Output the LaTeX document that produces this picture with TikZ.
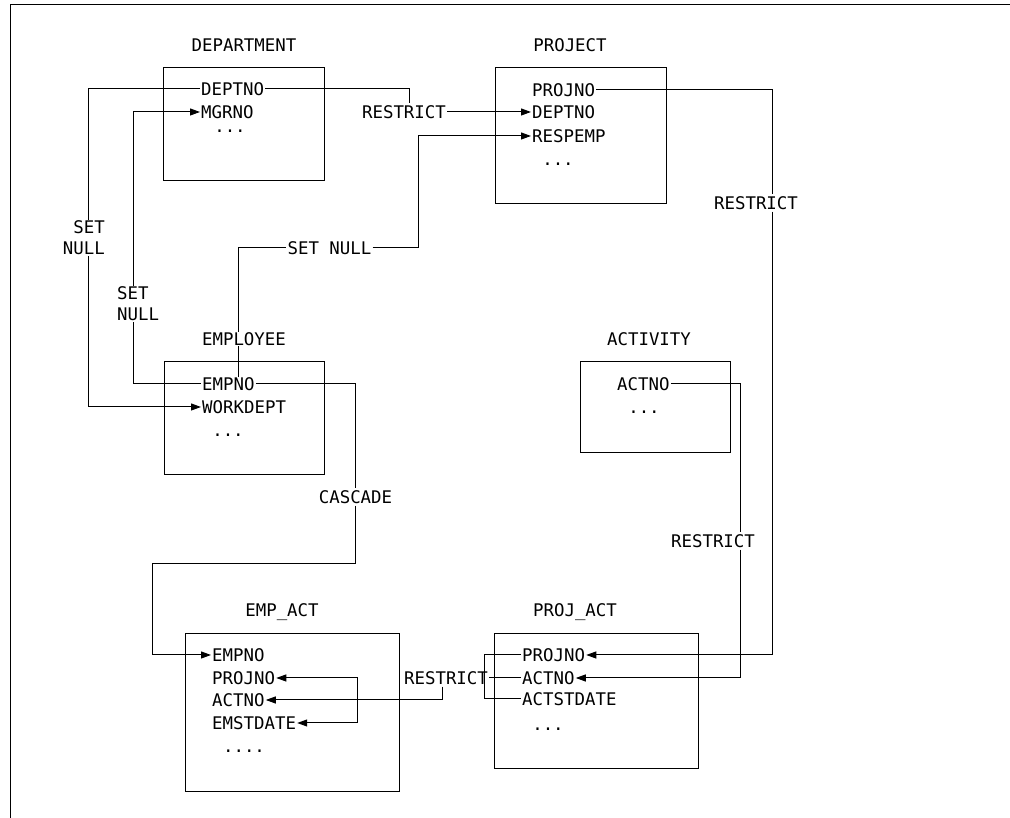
\documentclass[tikz,border=0pt]{standalone}
\usepackage{fontspec}
\newfontfamily\dbmono{DejaVu Sans Mono}
\usetikzlibrary{arrows.meta, positioning}

\begin{document}
\begin{tikzpicture}[x=1pt, y=1pt,
  every node/.style={font=\dbmono\fontsize{17.4}{21}\selectfont},
  tbl/.style={draw, line width=1pt, anchor=north west, inner sep=0pt},
  col/.style={anchor=west, inner xsep=1pt, inner ysep=0pt, text height=12.7pt, text depth=0pt},
  more/.style={anchor=base, inner sep=0pt, text height=3pt, text depth=0pt},
  head/.style={fill=white, inner xsep=2pt, inner ysep=1pt, text height=12.7pt, text depth=0pt},
  rule/.style={inner xsep=1pt, inner ysep=2pt, text height=12.7pt, text depth=0pt},
  rule2/.style={inner sep=1pt},
  link/.style={line width=1pt},
  arr/.style={link, -{Triangle[length=10pt, width=7pt]}},
  dblarr/.style={link, {Triangle[length=10pt, width=7pt]}-{Triangle[length=10pt, width=7pt]}}
]
  \useasboundingbox (0,0) rectangle (1010,818);
  \draw[link] (10,0) -- (10,813) -- (1010,813);

  % tables
  \node[tbl, minimum width=161pt, minimum height=113pt] (dept)    at (163,751) {};
  \node[tbl, minimum width=171pt, minimum height=136pt] (proj)    at (495,751) {};
  \node[tbl, minimum width=160pt, minimum height=113pt] (emp)     at (164,457) {};
  \node[tbl, minimum width=150pt, minimum height=91pt]  (act)     at (580,457) {};
  \node[tbl, minimum width=214pt, minimum height=158pt] (empact)  at (185,185) {};
  \node[tbl, minimum width=204pt, minimum height=135pt] (projact) at (494,185) {};

  % columns
  \node[col] (deptno)   at (200,729) {DEPTNO};
  \node[col] (mgrno)    at (200,706) {MGRNO};
  \node[more] (deptmore) at (230,685) {...};

  \node[col] (pjno)     at (531,728) {PROJNO};
  \node[col] (pjdept)   at (531,706) {DEPTNO};
  \node[col] (respemp)  at (531,682) {RESPEMP};
  \node[more] (pjmore)  at (558,652) {...};

  \node[col] (empno)    at (201,434) {EMPNO};
  \node[col] (workdept) at (201,411) {WORKDEPT};
  \node[more] (empmore) at (228,381) {...};

  \node[col] (actno)    at (616,434) {ACTNO};
  \node[more] (actmore) at (644,404) {...};

  \node[col] (eaemp)    at (211,163) {EMPNO};
  \node[col] (eaproj)   at (211,140) {PROJNO};
  \node[col] (eaact)    at (211,118) {ACTNO};
  \node[col] (eadate)   at (211,95)  {EMSTDATE};
  \node[more] (eamore)  at (244,65)  {....};

  \node[col] (paproj)   at (521,163) {PROJNO};
  \node[col] (paact)    at (521,140) {ACTNO};
  \node[col] (padate)   at (521,119) {ACTSTDATE};
  \node[more] (pamore)  at (548,87)  {...};

  % delete rules
  \node[rule] (r1)  at (404,706) {RESTRICT};
  \node[rule2, align=right, anchor=east] (sn1) at (106,580) {SET\\NULL};
  \node[rule2, align=left, anchor=west]  (sn2) at (116,514) {SET\\NULL};
  \node[rule] (sn3) at (329.5,570) {SET NULL};
  \node[rule] (cas) at (355.5,321) {CASCADE};
  \node[rule] (r2)  at (756,615) {RESTRICT};
  \node[rule] (r3)  at (713,277) {RESTRICT};
  \node[rule] (r4)  at (446,140) {RESTRICT};

  \draw[arr] (deptno.east) -| ([xshift=5pt]r1.north) (r1.east) -- (pjdept.west);
  \draw[arr] (deptno.west) -| ([xshift=5pt]sn1.north) ([xshift=5pt]sn1.south) |- (workdept.west);
  \draw[arr] (empno.west) -| ([xshift=-5pt]sn2.south) ([xshift=-5pt]sn2.north) |- (mgrno.west);
  \draw[arr] ([xshift=10pt]empno.north) |- (sn3.west) (sn3.east) -- ++(46,0) |- (respemp.west);
  \draw[arr] (empno.east) -| (cas.north) (cas.south) -- ++(0,-58) -- ++(-203,0) |- (eaemp.west);
  \draw[arr] (pjno.east) -| ([xshift=16pt]r2.north) ([xshift=16pt]r2.south) |- (paproj.east);
  \draw[arr] (actno.east) -| ([xshift=27pt]r3.north) ([xshift=27pt]r3.south) |- (paact.east);
  \draw[link] (paproj.west) -- ++(-37,0) |- (padate.west);
  \draw[arr] (paact.west) -- (r4.east) ([xshift=-4pt]r4.south) |- (eaact.east);
  \draw[dblarr] (eaproj.east) -- ++(81,0) |- (eadate.east);

  % table names
  \node[head] (depthead) at (244,773) {DEPARTMENT};
  \node[head] (projhead) at (570,773) {PROJECT};
  \node[head] (emphead)  at (244,479) {EMPLOYEE};
  \node[head] (acthead)  at (649,479) {ACTIVITY};
  \node[head] (eahead)   at (282,208) {EMP\_ACT};
  \node[head] (pahead)   at (575,208) {PROJ\_ACT};
\end{tikzpicture}
\end{document}
